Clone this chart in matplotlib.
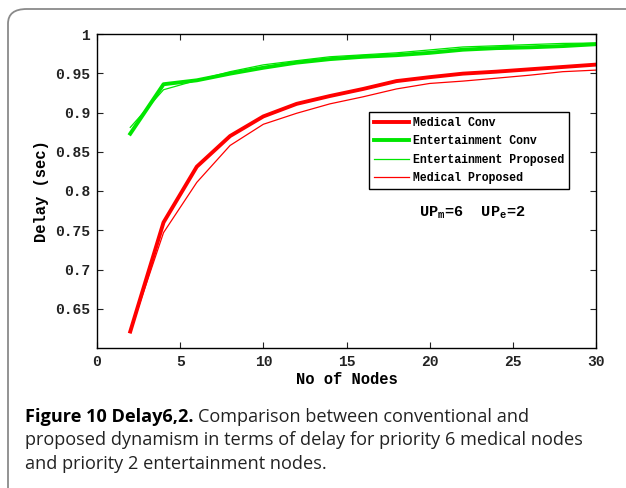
import matplotlib
matplotlib.use('Agg')
import matplotlib.pyplot as plt
from matplotlib.patches import FancyBboxPatch

# Delay vs number of nodes, UPm=6, UPe=2
nodes = [2, 4, 6, 8, 10, 12, 14, 16, 18, 20, 22, 24, 26, 28, 30]
med_conv = [0.621, 0.760, 0.831, 0.870, 0.895, 0.911, 0.921, 0.930, 0.940, 0.945,
            0.9495, 0.952, 0.955, 0.958, 0.961]
ent_conv = [0.873, 0.936, 0.941, 0.9495, 0.957, 0.9635, 0.968, 0.971, 0.973, 0.976,
            0.980, 0.982, 0.983, 0.9846, 0.987]
ent_prop = [0.881, 0.929, 0.941, 0.952, 0.9607, 0.966, 0.971, 0.9735, 0.976, 0.9797,
            0.9835, 0.985, 0.9865, 0.988, 0.9885]
med_prop = [0.621, 0.747, 0.811, 0.858, 0.885, 0.899, 0.911, 0.920, 0.930, 0.937,
            0.940, 0.9437, 0.9475, 0.952, 0.954]

mono = 'Liberation Mono'

fig = plt.figure(figsize=(6.26, 4.88), dpi=100)

# rounded frame around figure + caption
frame = FancyBboxPatch((8 / 626, -0.2), 1.2, 0.2 + 1 - 9 / 488,
                       boxstyle='round,pad=0,rounding_size=0.03',
                       transform=fig.transFigure, fill=False,
                       edgecolor='#8a8a8a', linewidth=1.3)
fig.patches.append(frame)

ax = fig.add_axes([97 / 626, 1 - 348 / 488, 499 / 626, 314 / 488])
ax.plot(nodes, med_conv, color='#ff0000', lw=2.8, label='Medical Conv')
ax.plot(nodes, ent_conv, color='#00e600', lw=2.8, label='Entertainment Conv')
ax.plot(nodes, ent_prop, color='#00e600', lw=0.9, label='Entertainment Proposed')
ax.plot(nodes, med_prop, color='#ff0000', lw=0.9, label='Medical Proposed')

ax.set_xlim(0, 30)
ax.set_ylim(0.6, 1.0)
ax.set_xticks([0, 5, 10, 15, 20, 25, 30])
ax.set_yticks([0.65, 0.7, 0.75, 0.8, 0.85, 0.9, 0.95, 1])
ax.set_yticklabels(['0.65', '0.7', '0.75', '0.8', '0.85', '0.9', '0.95', '1'])
ax.tick_params(direction='in', top=True, right=True, length=4, width=0.8,
               colors='#222222', labelsize=10.5, pad=5)
for lab in ax.get_xticklabels() + ax.get_yticklabels():
    lab.set_fontfamily(mono)
    lab.set_fontweight('bold')
for s in ax.spines.values():
    s.set_linewidth(1.0)

ax.set_xlabel('No of Nodes', fontfamily=mono, fontweight='bold', fontsize=11.2, labelpad=2)
ax.set_ylabel('Delay (sec)', fontfamily=mono, fontweight='bold', fontsize=11.2, labelpad=4)

leg = ax.legend(loc='upper left', bbox_to_anchor=(0.545, 0.752), fancybox=False,
                edgecolor='black', framealpha=1, handlelength=3.0, handletextpad=0.35,
                borderpad=0.45, labelspacing=0.55, borderaxespad=0,
                prop={'family': mono, 'weight': 'bold', 'size': 8.3})
leg.get_frame().set_linewidth(1.0)

ax.text(0.753, 0.43, r'UP$_\mathregular{m}$=6  UP$_\mathregular{e}$=2',
        transform=ax.transAxes, ha='center', va='center',
        fontfamily=mono, fontweight='bold', fontsize=11)

# caption: bold lead-in followed by regular text
cap_font = 'Open Sans'
cap_size = 13.1
y1 = 1 - 422 / 488
t_bold = fig.text(25 / 626, y1, 'Figure 10 Delay6,2.', fontfamily=cap_font,
                  fontweight='bold', fontsize=cap_size, va='baseline')
fig.canvas.draw()
bb = t_bold.get_window_extent()
fig.text(bb.x1 / 626 + 4 / 626, y1, 'Comparison between conventional and',
         fontfamily=cap_font, fontsize=cap_size, va='baseline', color='#222222')
fig.text(25 / 626, 1 - 445 / 488,
         'proposed dynamism in terms of delay for priority 6 medical nodes',
         fontfamily=cap_font, fontsize=cap_size, va='baseline', color='#222222')
fig.text(25 / 626, 1 - 469 / 488, 'and priority 2 entertainment nodes.',
         fontfamily=cap_font, fontsize=cap_size, va='baseline', color='#222222')

fig.savefig('out.png', dpi=100)
